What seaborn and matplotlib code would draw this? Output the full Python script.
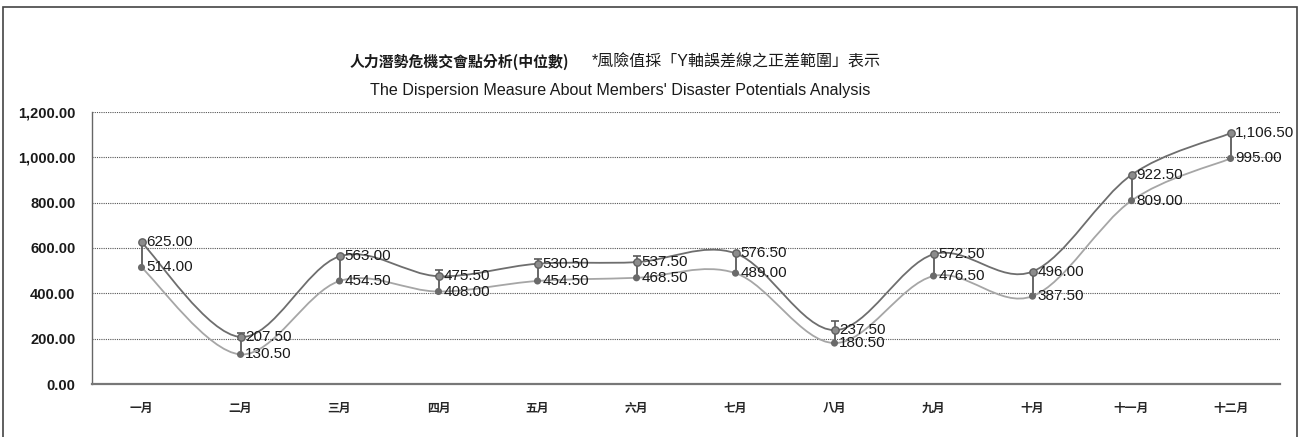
import numpy as np
import matplotlib
matplotlib.use("Agg")
import matplotlib.pyplot as plt
from matplotlib.path import Path
from matplotlib.patches import PathPatch, Rectangle
from matplotlib.ticker import FixedLocator, FuncFormatter
import seaborn as sns

months = ["一月", "二月", "三月", "四月", "五月", "六月",
          "七月", "八月", "九月", "十月", "十一月", "十二月"]
upper = [625.0, 207.5, 563.0, 475.5, 530.5, 537.5, 576.5, 237.5, 572.5, 496.0, 922.5, 1106.5]
lower = [514.0, 130.5, 454.5, 408.0, 454.5, 468.5, 489.0, 180.5, 476.5, 387.5, 809.0, 995.0]
# small positive error on the upper series (read from the caps)
upper_err = [0, 18, 0, 28, 20, 27, 0, 42, 0, 0, 0, 0]

title_cn_bold = "人力潛勢危機交會點分析(中位數)"
title_cn_note = "*風險值採「Y軸誤差線之正差範圍」表示"
title_en = "The Dispersion Measure About Members' Disaster Potentials Analysis"

UP_COLOR = "#6e6e6e"
LO_COLOR = "#a6a6a6"
ERR_COLOR = "#5a5a5a"


def smooth_path(xs, ys):
    # excel style smoothed line (catmull-rom as bezier segments)
    pts = np.column_stack([xs, ys]).astype(float)
    n = len(pts)
    verts = [pts[0]]
    codes = [Path.MOVETO]
    for i in range(n - 1):
        p0 = pts[i - 1] if i > 0 else pts[i]
        p1 = pts[i]
        p2 = pts[i + 1]
        p3 = pts[i + 2] if i + 2 < n else pts[i + 1]
        verts += [p1 + (p2 - p0) / 6, p2 - (p3 - p1) / 6, p2]
        codes += [Path.CURVE4] * 3
    return Path(verts, codes)


sns.set_style("white")
plt.rcParams['font.family'] = ['Liberation Sans', 'Noto Sans CJK TC', 'DejaVu Sans']

fig = plt.figure(figsize=(13, 4.37), dpi=100)
ax = fig.add_axes([92 / 1300, 1 - 384 / 437, (1280 - 92) / 1300, (384 - 112) / 437])

x = np.arange(len(months))
up = np.array(upper)
lo = np.array(lower)

ax.add_patch(PathPatch(smooth_path(x, lo), facecolor="none", edgecolor=LO_COLOR, lw=1.3, zorder=2))
ax.add_patch(PathPatch(smooth_path(x, up), facecolor="none", edgecolor=UP_COLOR, lw=1.3, zorder=2))

# error bars: lower -> upper, plus small ones above upper
ax.errorbar(x, lo, yerr=[np.zeros(len(x)), up - lo], fmt="none", ecolor=ERR_COLOR,
            elinewidth=1.3, capsize=0, zorder=3)
ue = np.array(upper_err, dtype=float)
m = ue > 0
ax.errorbar(x[m], up[m], yerr=[np.zeros(m.sum()), ue[m]], fmt="none", ecolor=ERR_COLOR,
            elinewidth=1.2, capsize=3, capthick=1.2, zorder=3)

sns.scatterplot(x=x, y=lo, ax=ax, color="#6a6a6a", s=26, edgecolor="none", zorder=4)
sns.scatterplot(x=x, y=up, ax=ax, color="#8c8c8c", s=28, edgecolor="#606060",
                linewidth=1.0, zorder=4)

for xi, v in zip(x, up):
    ax.annotate(f"{v:,.2f}", (xi, v), xytext=(3.5, 0), textcoords="offset points",
                va="center", ha="left", fontsize=11, color="#1a1a1a", zorder=5)
for xi, v in zip(x, lo):
    ax.annotate(f"{v:,.2f}", (xi, v), xytext=(3.5, 0), textcoords="offset points",
                va="center", ha="left", fontsize=11, color="#1a1a1a", zorder=5)

ax.set_xlim(-0.5, len(months) - 0.5)
ax.set_ylim(0, 1200)
ax.yaxis.set_major_locator(FixedLocator(np.arange(0, 1201, 200)))
ax.yaxis.set_major_formatter(FuncFormatter(lambda v, p: f"{v:,.2f}"))
ax.grid(axis="y", color="#555555", linestyle=(0, (1, 1)), linewidth=0.8)
ax.set_axisbelow(True)

ax.set_xticks(x)
ax.set_xticklabels(months, family=['Noto Sans CJK TC'], fontweight="bold", fontsize=8.5)
ax.set_xticks(np.arange(-0.5, len(months)), minor=True)
ax.tick_params(axis="x", which="major", length=0, pad=13)
ax.tick_params(axis="x", which="minor", length=5, width=1, color="#555555", direction="out")
ax.tick_params(axis="y", length=0, pad=12, labelsize=10.5, labelcolor="#1a1a1a")
for lab in ax.get_yticklabels():
    lab.set_fontweight("bold")

for s in ["top", "right"]:
    ax.spines[s].set_visible(False)
ax.spines["left"].set_color("#666666")
ax.spines["left"].set_linewidth(1.0)
ax.spines["bottom"].set_color("#777777")
ax.spines["bottom"].set_linewidth(1.6)

fig.text(350 / 1300, 1 - 62 / 437, title_cn_bold, family=['Noto Sans CJK TC'],
         fontweight="bold", fontsize=10.7, va="center", ha="left", color="#1a1a1a")
fig.text(592 / 1300, 1 - 62 / 437, title_cn_note, family=['Liberation Sans', 'Noto Sans CJK TC'],
         fontsize=11.5, va="center", ha="left", color="#1a1a1a")
fig.text(620 / 1300, 1 - 90 / 437, title_en, fontsize=11.6, va="center", ha="center",
         color="#1a1a1a")

fig.patches.append(Rectangle((3 / 1300, -0.02), 1294 / 1300, 1.02 - 7 / 437,
                             transform=fig.transFigure, fill=False,
                             edgecolor="#444444", linewidth=1.2))

fig.savefig("out.png", dpi=100)
